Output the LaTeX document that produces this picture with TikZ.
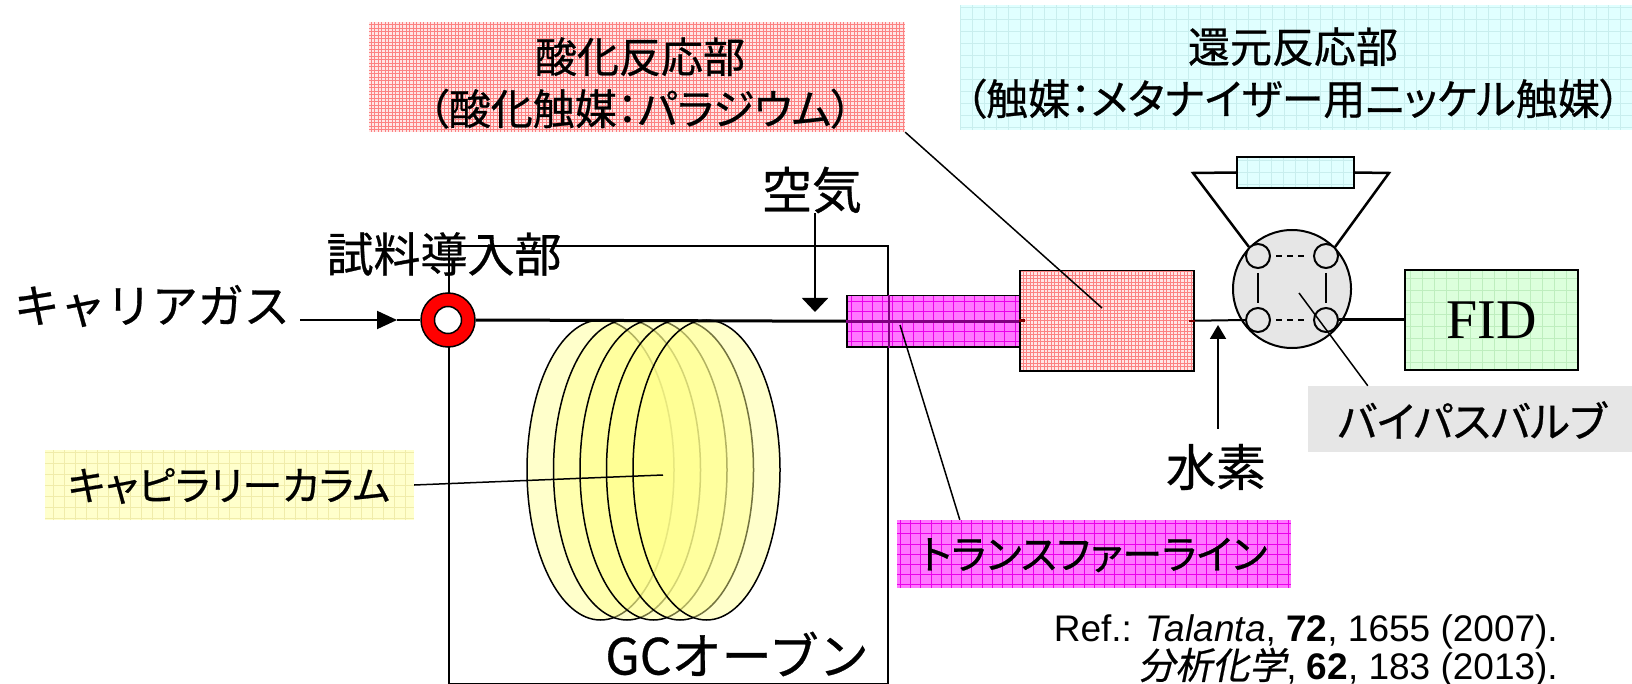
\documentclass[tikz,border=0pt]{standalone}
\usepackage{fontspec}
\setmainfont{Liberation Sans}
\newfontfamily\jpfont[RawFeature=+palt,FakeBold=0.6]{Noto Sans CJK JP}
\newfontfamily\jpwide[FakeBold=0.6]{Noto Sans CJK JP}
\newfontfamily\jpslant[FakeSlant=0.2,FakeBold=0.6,RawFeature=+palt]{Noto Sans CJK JP}
\newfontfamily\seriffont{Liberation Serif}
\usetikzlibrary{arrows.meta}

\definecolor{oxfill}{RGB}{255,230,230}
\definecolor{oxgrid}{RGB}{252,130,130}
\definecolor{tlfill}{RGB}{255,120,255}
\definecolor{tlgrid}{RGB}{235,0,235}
\definecolor{tlpurple}{RGB}{128,0,128}
\definecolor{rdfill}{RGB}{224,255,255}
\definecolor{rdgrid}{RGB}{200,238,238}
\definecolor{fidfill}{RGB}{220,255,220}
\definecolor{fidgrid}{RGB}{190,238,190}
\definecolor{colfill}{RGB}{255,255,204}
\definecolor{colgrid}{RGB}{240,236,170}
\definecolor{valvegrey}{RGB}{230,230,230}
\definecolor{coilfill}{RGB}{255,255,140}
\definecolor{darkred}{RGB}{128,0,0}

\tikzset{
  mainline/.style={line width=3pt},
  thinline/.style={line width=2pt},
  leader/.style={line width=1.5pt},
  jtext/.style={font=\jpfont\fontsize{#1}{#1}\selectfont, inner sep=0pt},
  jwide/.style={font=\jpwide\fontsize{#1}{#1}\selectfont, inner sep=0pt},
  gridded/.style n args={3}{fill=#1, path picture={
      \draw[#2, line width=0.5pt] (path picture bounding box.south west)
        grid[step=#3] (path picture bounding box.north east);}},
  box/.style={draw, line width=1.5pt, inner sep=0pt},
  port/.style={circle, draw, line width=2pt, fill=valvegrey, minimum size=24pt, inner sep=0pt},
  coil/.style={line width=1.5pt, fill=coilfill, fill opacity=0.45},
}

\begin{document}
\begin{tikzpicture}[x=1pt,y=-1pt]
\useasboundingbox (0,0) rectangle (1632,684);
\fill[white] (0,0) rectangle (1632,684);

% GC oven
\node[draw, line width=2pt, minimum width=439pt, minimum height=438pt, inner sep=0pt,
      anchor=north west] (oven) at (448,245) {};
\node[jwide=50] (ovenlabel) at (737,654) {GCオーブン};

% capillary column coil
\foreach \i in {0,...,4}{
  \draw[coil] (600.5+26.5*\i,470) ellipse [x radius=73.5pt, y radius=150pt];
}
\coordinate (coilc) at (663,475);

% carrier gas and sample inlet
\node[jwide=46, anchor=east] (cg) at (290,306) {キャリアガス};
\node[jtext=47] (inlet) at (444,254) {試料導入部};
\node[circle, draw, line width=1.5pt, fill=red, minimum size=54pt, inner sep=0pt] (ring) at (448,320) {};
\node[circle, draw, line width=1.5pt, fill=white, minimum size=27pt, inner sep=0pt] (ringhole) at (ring.center) {};
\coordinate (cgstart) at (300,320);
\coordinate (cgtip) at (397,320);
\draw[thinline, -{Triangle[length=20pt,width=18pt]}] (cgstart) -- (cgtip);
\draw[thinline] (cgtip) -- (ring.west);

% transfer line
\node[box, gridded={tlfill}{tlgrid}{10.2pt}, minimum width=173pt, minimum height=51pt,
      anchor=north west] (tl) at (846,295) {};
\draw[mainline] (ring.east) -- (tl.west);
\draw[mainline, tlpurple] (tl.west) -- (tl.east);
\draw[line width=2pt, tlpurple] (oven.north east |- tl.north) -- (oven.north east |- tl.south);

% air inlet
\node[jtext=50] (air) at (812,190) {空気};
\coordinate (airtip) at (815,312);
\draw[line width=2pt, -{Triangle[length=14pt,width=26pt]}] (air.south -| airtip) -- (airtip);

% oxidation reactor
\node[box, gridded={oxfill}{oxgrid}{3.5pt}, minimum width=174pt, minimum height=100pt,
      anchor=north west] (ox) at (1019,270) {};
\draw[mainline, darkred] (ox.west) -- ++(6,0);
\draw[thinline, darkred] (ox.east) -- ++(-6,0);

% bypass valve
\node[circle, draw, line width=2pt, fill=valvegrey, minimum size=118pt, inner sep=0pt] (valve) at (1292,289) {};
\node[port] (ptl) at (1258,256) {};
\node[port] (ptr) at (1326,256) {};
\node[port] (pbl) at (1258,320) {};
\node[port] (pbr) at (1326,320) {};
\draw[thinline, shorten <=4pt, shorten >=4pt] (ptl) -- (pbl);
\draw[thinline, shorten <=4pt, shorten >=4pt] (ptr) -- (pbr);
\draw[thinline, dash pattern=on 6pt off 5pt, shorten <=5pt, shorten >=5pt] (ptl) -- (ptr);
\draw[thinline, dash pattern=on 6pt off 5pt, shorten <=5pt, shorten >=5pt] (pbl) -- (pbr);
\draw[thinline] (ox.east) -- (pbl.west);

% reduction reactor in the bypass loop
\node[box, line width=2pt, gridded={rdfill}{rdgrid}{12pt}, minimum width=117pt, minimum height=31pt]
      (loopbox) at (1295.5,172.5) {};
\coordinate (lpA) at (1193,173);
\coordinate (lpB) at (1389,173);
\draw[line width=2.5pt] (ptl.north west) -- (lpA) -- (loopbox.west);
\draw[line width=2.5pt] (loopbox.east) -- (lpB) -- (ptr.north east);

% hydrogen
\node[jtext=50] (h2) at (1216,467) {水素};
\coordinate (h2tip) at (1218,325);
\draw[line width=2pt, -{Triangle[length=14pt,width=16pt]}] ([yshift=15pt]h2.north -| h2tip) -- (h2tip);

% detector
\node[box, gridded={fidfill}{fidgrid}{12pt}, minimum width=173pt, minimum height=100pt,
      font=\seriffont\fontsize{56}{56}\selectfont] (fid) at (1491.5,320) {FID};
\draw[mainline] (pbr.east) -- (fid.west);

% labels with leaders
\node[gridded={oxfill}{oxgrid}{3.5pt}, minimum width=536pt, minimum height=110pt, inner sep=0pt]
      (oxlabel) at (637,77) {};
\node[jtext=42, align=center, font=\jpfont\fontsize{42}{52}\selectfont] (oxtext) at (640,83)
      {酸化反応部\\（酸化触媒：パラジウム）};
\coordinate (oxc) at (1102,308);
\draw[leader] (oxlabel.south east) -- (oxc);

\node[gridded={rdfill}{rdgrid}{12pt}, minimum width=672pt, minimum height=125pt, inner sep=0pt]
      (rdlabel) at (1296,67.5) {};
\node[jtext=42, align=center, font=\jpfont\fontsize{42}{52}\selectfont] (rdtext) at (1293,73)
      {還元反応部\\（触媒：メタナイザー用ニッケル触媒）};

\node[gridded={colfill}{colgrid}{11pt}, minimum width=369pt, minimum height=70pt, inner sep=0pt]
      (collabel) at (229.5,485) {};
\node[jtext=40] (coltext) at (229,486) {キャピラリーカラム};
\draw[leader] (collabel.east) -- (coilc);

\node[gridded={tlfill}{tlgrid}{10.2pt}, minimum width=394pt, minimum height=68pt, inner sep=0pt]
      (tllabel) at (1094,554) {};
\node[jtext=40] (tltext) at (1094,555) {トランスファーライン};
\coordinate (tlc) at (900,325);
\draw[leader] (tlc) -- ([xshift=63pt]tllabel.north west);

\node[fill=valvegrey, minimum width=324pt, minimum height=66pt, inner sep=0pt]
      (bplabel) at (1470,419) {};
\node[jtext=42] (bptext) at (1472,420) {バイパスバルブ};
\coordinate (bpc) at (1299,293);
\draw[leader] (bpc) -- ([xshift=60pt]bplabel.north west);

% reference
\node[anchor=base east, inner sep=0pt, font=\fontsize{37}{37}\selectfont] (ref1) at (1558,641)
      {Ref.: \textit{Talanta}, \textbf{72}, 1655 (2007).};
\node[anchor=base east, inner sep=0pt, font=\fontsize{37}{37}\selectfont] (ref2) at (1558,679)
      {{\jpslant 分析化学}, \textbf{62}, 183 (2013).};
\end{tikzpicture}
\end{document}
